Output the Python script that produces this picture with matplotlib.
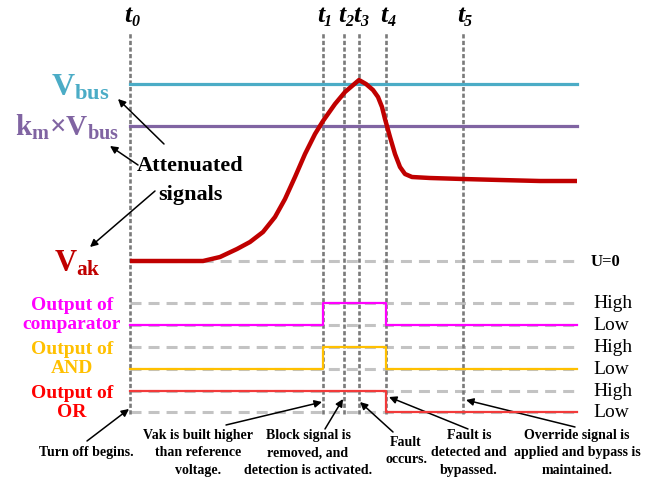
import numpy as np
import matplotlib
matplotlib.use("Agg")
import matplotlib.pyplot as plt

plt.rcParams['font.family'] = ['Liberation Serif', 'DejaVu Serif']
plt.rcParams['mathtext.fontset'] = 'custom'
plt.rcParams['mathtext.rm'] = 'Liberation Serif:bold'
plt.rcParams['mathtext.it'] = 'Liberation Serif:bold:italic'
plt.rcParams['mathtext.bf'] = 'Liberation Serif:bold'

# ---------------- data ----------------
event_names = ['t0', 't1', 't2', 't3', 't4', 't5']
event_times = [0, 193, 214, 229, 256, 333]
t_end = 447

vbus_level = 177
km_vbus_level = 135

vak_t = [0, 73, 90, 107, 120, 133, 145, 155, 165, 175, 185, 193, 205, 215, 229,
         236, 243, 248, 252, 255, 260, 265, 270, 275, 282, 300, 333, 370, 410, 447]
vak_v = [0, 0, 4, 12, 19, 29, 44, 62, 84, 107, 127, 140, 157, 169, 181,
         177, 171, 164, 154, 142, 124, 107, 94, 87, 84, 83, 82, 81, 80, 80]

dig_t = [0, 193, 256, t_end]
comp_state = [0, 1, 0, 0]
and_state = [0, 1, 0, 0]
or_t = [0, 256, t_end]
or_state = [1, 0, 0]

# ---------------- layout ----------------
W, H = 671, 481
X0 = 130  # pixel x of t0


def P(xp, yp):
    return (xp - X0, H - yp)


analog_base = H - 262
tracks = {  # low level, amplitude
    'comp': (H - 326, 22),
    'and': (H - 370, 22),
    'or': (H - 413, 21),
}

fig = plt.figure(figsize=(W / 100, H / 100), dpi=100)
ax = fig.add_axes([0, 0, 1, 1])
ax.set_xlim(-X0, W - X0)
ax.set_ylim(0, H)
ax.axis('off')

grey_dash = dict(color='#c3c3c3', lw=2.2, dashes=(3.6, 2.3), zorder=1)

# vertical event lines
for t in event_times:
    ax.plot([t, t], [H - 415, H - 33], color='#7a7a7a', lw=1.9,
            dashes=(1.6, 0.9), zorder=2)

# reference dashed lines
ax.plot([0, t_end], [analog_base, analog_base], **grey_dash)
for key, (low, amp) in tracks.items():
    ax.plot([0, t_end], [low, low], **grey_dash)
    ax.plot([0, t_end], [low + amp, low + amp], **grey_dash)

# analog signals
ax.plot([0, t_end], [analog_base + vbus_level] * 2, color='#4bacc6', lw=2.3, zorder=3)
ax.plot([0, t_end], [analog_base + km_vbus_level] * 2, color='#8064a2', lw=2.3, zorder=3)
ax.plot(vak_t, np.array(vak_v) + analog_base, color='#c00000', lw=3.2,
        solid_joinstyle='round', solid_capstyle='butt', zorder=4)

# digital signals
low, amp = tracks['comp']
ax.step(dig_t, np.array(comp_state) * amp + low, where='post', color='#ff00ff', lw=1.6, zorder=4)
low, amp = tracks['and']
ax.step(dig_t, np.array(and_state) * amp + low, where='post', color='#ffc000', lw=1.6, zorder=4)
low, amp = tracks['or']
ax.step(or_t, np.array(or_state) * amp + low, where='post', color='#f23a3a', lw=1.6, zorder=4)

# event labels: bold italic t with bold italic subscript
for name, t in zip(event_names, event_times):
    ax.text(t + 1.5, H - 22, name[0], fontsize=18.5, fontweight='bold', fontstyle='italic',
            ha='right', va='baseline')
    ax.text(t + 1.0, H - 26, name[1:], fontsize=11.5, fontweight='bold', fontstyle='italic',
            ha='left', va='baseline')

# left analog labels
ax.text(*P(110, 95), r'$\mathrm{V}_{\mathrm{bus}}$', fontsize=23, color='#4bacc6',
        ha='right', va='baseline')
ax.text(*P(119, 136), r'$\mathrm{k}_{\mathrm{m}}$' + '×' + r'$\mathrm{V}_{\mathrm{bus}}$',
        fontsize=21, color='#8064a2', ha='right', va='baseline', fontweight='bold')
ax.text(*P(101, 272), r'$\mathrm{V}_{\mathrm{ak}}$', fontsize=22, color='#c00000',
        ha='right', va='baseline')

ax.text(*P(190, 180.5), 'Attenuated\nsignals', fontsize=16, fontweight='bold',
        ha='center', va='center', linespacing=1.6)

arrow_kw = dict(arrowstyle='-|>', color='black', lw=1.1, mutation_scale=11,
                shrinkA=0, shrinkB=0)
for tail, head in [((164, 145), (118, 100)), ((138, 166), (110, 147)),
                   ((155, 192), (90, 248))]:
    ax.annotate('', xy=P(*head), xytext=P(*tail), arrowprops=arrow_kw)

# digital labels
left_labels = [('Output of\ncomparator', '#ff00ff', 315),
               ('Output of\nAND', '#ffc000', 359),
               ('Output of\nOR', '#ff0000', 403)]
for txt, col, yc in left_labels:
    ax.text(*P(72, yc), txt, fontsize=14, fontweight='bold', color=col,
            ha='center', va='center', linespacing=1.12)

for key, (low, amp) in tracks.items():
    ax.text(t_end + 16, low + amp, 'High', fontsize=14, ha='left', va='center')
    ax.text(t_end + 16, low, 'Low', fontsize=14, ha='left', va='center')
ax.text(t_end + 14, analog_base, 'U=0', fontsize=12, fontweight='bold', ha='left', va='center')

# bottom annotations
notes = [('Turn off begins.', (86, 453), (87, 442), (129, 410)),
         ('Vak is built higher\nthan reference\nvoltage.', (198, 453), (226, 426), (322, 403)),
         ('Block signal is\nremoved, and\ndetection is activated.', (308, 453), (325, 430), (343, 400)),
         ('Fault\noccurs.', (406, 451), (393, 433), (360, 403)),
         ('Fault is\ndetected and\nbypassed.', (469, 453), (468, 430), (389, 398)),
         ('Override signal is\napplied and bypass is\nmaintained.', (577, 453), (575, 428), (466, 401))]
for txt, pos, tail, head in notes:
    ax.text(*P(*pos), txt, fontsize=10, fontweight='bold', ha='center', va='center',
            linespacing=1.42)
    ax.annotate('', xy=P(*head), xytext=P(*tail), arrowprops=arrow_kw)

fig.savefig('out.png', dpi=100)
